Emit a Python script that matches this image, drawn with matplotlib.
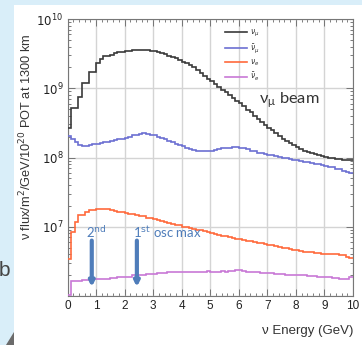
import numpy as np
import matplotlib
matplotlib.use("Agg")
import matplotlib.pyplot as plt
from matplotlib.patches import Rectangle, Polygon
from matplotlib.ticker import FixedLocator, MultipleLocator, LogLocator, NullFormatter

# Energy binning (GeV) and flux per bin, stored as log10(flux)
bin_edges = np.linspace(0.0, 10.0, 81)

numu_log10 = [
    8.42, 8.72, 8.72, 8.87, 9.08, 9.08, 9.24, 9.24, 9.37, 9.42,
    9.46, 9.46, 9.48, 9.51, 9.52, 9.53, 9.54, 9.545, 9.55, 9.555,
    9.555, 9.555, 9.55, 9.545, 9.535, 9.525, 9.51, 9.49, 9.47, 9.45,
    9.43, 9.41, 9.38, 9.36, 9.33, 9.30, 9.26, 9.22, 9.18, 9.14,
    9.10, 9.06, 9.02, 8.98, 8.94, 8.90, 8.86, 8.82, 8.78, 8.74,
    8.69, 8.65, 8.60, 8.56, 8.51, 8.47, 8.43, 8.39, 8.35, 8.31,
    8.27, 8.24, 8.21, 8.18, 8.15, 8.12, 8.10, 8.08, 8.06, 8.05,
    8.03, 8.02, 8.01, 8.00, 7.99, 7.98, 7.98, 7.97, 7.97, 7.96,
]
numubar_log10 = [
    8.31, 8.27, 8.22, 8.18, 8.17, 8.17, 8.18, 8.19, 8.20, 8.21,
    8.22, 8.23, 8.24, 8.25, 8.26, 8.27, 8.28, 8.30, 8.32, 8.33,
    8.34, 8.35, 8.34, 8.33, 8.32, 8.30, 8.28, 8.26, 8.24, 8.22,
    8.20, 8.18, 8.16, 8.14, 8.12, 8.11, 8.10, 8.10, 8.10, 8.10,
    8.10, 8.11, 8.12, 8.13, 8.14, 8.14, 8.15, 8.15, 8.14, 8.13,
    8.12, 8.10, 8.09, 8.07, 8.06, 8.05, 8.04, 8.03, 8.02, 8.01,
    8.00, 7.99, 7.98, 7.97, 7.96, 7.95, 7.94, 7.93, 7.92, 7.91,
    7.90, 7.89, 7.88, 7.87, 7.86, 7.84, 7.83, 7.81, 7.79, 7.77,
]
nue_log10 = [
    6.53, 6.93, 7.07, 7.17, 7.17, 7.22, 7.24, 7.24, 7.25, 7.25,
    7.25, 7.25, 7.24, 7.23, 7.22, 7.21, 7.20, 7.19, 7.18, 7.17,
    7.16, 7.15, 7.13, 7.12, 7.11, 7.10, 7.08, 7.07, 7.05, 7.04,
    7.03, 7.02, 7.00, 6.99, 6.98, 6.97, 6.96, 6.95, 6.94, 6.92,
    6.91, 6.90, 6.88, 6.87, 6.86, 6.85, 6.84, 6.83, 6.82, 6.81,
    6.80, 6.79, 6.78, 6.77, 6.76, 6.75, 6.74, 6.73, 6.72, 6.71,
    6.70, 6.69, 6.68, 6.67, 6.66, 6.65, 6.64, 6.64, 6.63, 6.62,
    6.62, 6.61, 6.61, 6.60, 6.60, 6.60, 6.59, 6.59, 6.57, 6.55,
]
nuebar_log10 = [
    6.01, 6.22, 6.22, 6.22, 6.23, 6.23, 6.23, 6.24, 6.24, 6.25,
    6.25, 6.25, 6.26, 6.26, 6.27, 6.27, 6.28, 6.28, 6.30, 6.31,
    6.31, 6.31, 6.32, 6.32, 6.32, 6.33, 6.33, 6.33, 6.34, 6.34,
    6.34, 6.34, 6.35, 6.35, 6.35, 6.35, 6.35, 6.34, 6.35, 6.36,
    6.35, 6.35, 6.35, 6.36, 6.35, 6.36, 6.36, 6.37, 6.38, 6.36,
    6.35, 6.34, 6.34, 6.34, 6.33, 6.33, 6.33, 6.33, 6.32, 6.32,
    6.32, 6.31, 6.31, 6.31, 6.30, 6.30, 6.30, 6.29, 6.29, 6.29,
    6.28, 6.28, 6.27, 6.27, 6.26, 6.26, 6.25, 6.25, 6.25, 6.27,
]

series_labels = [r"$\nu_\mu$", r"$\bar{\nu}_\mu$", r"$\nu_e$", r"$\bar{\nu}_e$"]
series_colors = ["#3a3a3a", "#6c70d2", "#ff6a3c", "#c878d6"]

# Oscillation maxima marked with arrows (GeV)
osc_max_energy = [0.85, 2.43]
osc_max_labels = ["2$^{\\rm nd}$", "1$^{\\rm st}$ osc max"]

x_ticks = list(range(0, 11))
y_ticks = [1e7, 1e8, 1e9, 1e10]
y_tick_labels = [r"$10^{7}$", r"$10^{8}$", r"$10^{9}$", r"$10^{10}$"]

W, H, DPI = 362, 345, 100
fig = plt.figure(figsize=(W / DPI, H / DPI), dpi=DPI, facecolor="#d9eef9")

# white slide panel and page decorations
fig.patches.append(Rectangle((14 / W, 0), 1 - 14 / W, 1 - 5 / H,
                             transform=fig.transFigure, facecolor="white",
                             edgecolor="none", zorder=-2))
fig.patches.append(Polygon([(14 / W, 1 - 332 / H), (14 / W, 0), (6 / W, 0)],
                           closed=True, transform=fig.transFigure,
                           facecolor="#6b6b6b", edgecolor="none", zorder=-1))
fig.text(-1.5 / W, 1 - 270 / H, "b", fontsize=15, color="#444444",
         family="Liberation Sans", va="center", ha="left", zorder=-1)

ax = fig.add_axes([67.5 / W, 1 - 296 / H, (353 - 67.5) / W, (296 - 19) / H])
ax.set_zorder(2)
ax.set_facecolor("white")

for vals, col, lab in zip([numu_log10, numubar_log10, nue_log10, nuebar_log10],
                          series_colors, series_labels):
    ax.stairs(10 ** np.asarray(vals), bin_edges, color=col, lw=1.2,
              label=lab, baseline=None, zorder=3)

ax.set_yscale("log")
ax.set_xlim(0, 10)
ax.set_ylim(1e6, 1e10)

ax.xaxis.set_major_locator(FixedLocator(x_ticks))
ax.xaxis.set_minor_locator(MultipleLocator(0.2))
ax.yaxis.set_major_locator(FixedLocator(y_ticks + [1e6]))
ax.yaxis.set_minor_locator(LogLocator(base=10, subs=np.arange(2, 10)))
ax.yaxis.set_minor_formatter(NullFormatter())
ax.set_yticklabels(y_tick_labels + [""])
ax.set_xticklabels([str(t) for t in x_ticks])

ax.tick_params(which="both", direction="in", top=True, right=True,
               color="#666666", width=0.6, labelsize=8.5, labelcolor="#222222")
ax.tick_params(which="major", length=5, pad=3)
ax.tick_params(which="minor", length=2.5)
for lab in ax.get_xticklabels() + ax.get_yticklabels():
    lab.set_family("Liberation Sans")

ax.grid(True, which="major", color="#d4d4d4", lw=1.0, zorder=1)
for s in ax.spines.values():
    s.set_color("#777777")
    s.set_linewidth(0.8)

ax.set_xlabel("ν Energy (GeV)", fontsize=9.5, color="#333333",
              family="Liberation Sans", loc="right", labelpad=9)
ax.set_ylabel("ν flux/m$^2$/GeV/10$^{20}$ POT at 1300 km", fontsize=9.2,
              color="#333333", family="Liberation Sans")
ax.yaxis.set_label_coords(-0.115, 0.575)

leg = ax.legend(loc="upper right", bbox_to_anchor=(0.69, 0.985), frameon=False,
                fontsize=5.5, handlelength=2.9, handletextpad=0.4,
                labelspacing=0.35, borderaxespad=0.2)
for t in leg.get_texts():
    t.set_color("#333333")

ax.text(6.7, 10 ** 8.78, r"ν$_{\mathregular{μ}}$ beam", fontsize=11.8,
        color="#333333", family="Lato", ha="left", va="baseline")

arrow_col = "#4f7dba"
for e in osc_max_energy:
    ax.annotate("", xy=(e, 10 ** 6.13), xytext=(e, 10 ** 6.8),
                arrowprops=dict(arrowstyle="-|>", lw=3.0, color=arrow_col,
                                mutation_scale=7, shrinkA=0, shrinkB=0),
                zorder=5)
ax.text(osc_max_energy[0] - 0.2, 10 ** 6.92, osc_max_labels[0], fontsize=9.5,
        color=arrow_col, family="Lato", ha="left", va="center", zorder=5)
ax.text(osc_max_energy[1] - 0.15, 10 ** 6.92, osc_max_labels[1], fontsize=9.5,
        color=arrow_col, family="Lato", ha="left", va="center", zorder=5)

fig.savefig("out.png", dpi=DPI, facecolor=fig.get_facecolor())
